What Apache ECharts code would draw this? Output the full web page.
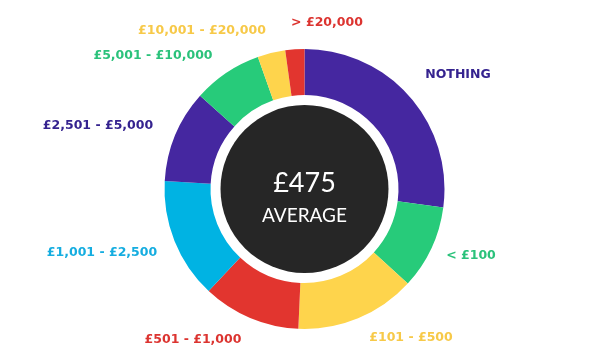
<!DOCTYPE html>
<html>
<head>
<meta charset="utf-8">
<script src="https://cdn.jsdelivr.net/npm/echarts@6/dist/echarts.min.js"></script>
<style>
html,body{margin:0;padding:0;background:#fff;}
#chart{width:605px;height:362px;}
</style>
</head>
<body>
<div id="chart"></div>
<script>
// Data (share of respondents, %), clockwise from 12 o'clock
const categories = ['NOTHING', '< £100', '£101 - £500', '£501 - £1,000', '£1,001 - £2,500', '£2,501 - £5,000', '£5,001 - £10,000', '£10,001 - £20,000', '> £20,000'];
const values = [27.1, 9.7, 13.9, 11.3, 13.9, 10.7, 8.0, 3.2, 2.2];
const centerValue = '£475';
const centerLabel = 'AVERAGE';

// Styles
const sliceColors = ['#4527a0', '#27cb7a', '#fed44c', '#e2352f', '#00b3e3', '#4527a0', '#27cb7a', '#fed44c', '#e2352f'];
const labelColors = ['#35238f', '#2bc27b', '#f7c948', '#dc3430', '#15ade0', '#35238f', '#2bc27b', '#f7c948', '#dc3430'];
const labelPos = [[458, 75], [471, 256], [411, 338], [193, 340], [102, 253], [98, 126], [153, 56], [202, 31], [327, 23]];

const chart = echarts.init(document.getElementById('chart'), null, {renderer: 'canvas'});
const cx = 304.5, cy = 189;
chart.setOption({
  animation: false,
  series: [{
    type: 'pie',
    center: [cx, cy],
    radius: [94, 140],
    startAngle: 90,
    clockwise: true,
    silent: true,
    avoidLabelOverlap: false,
    itemStyle: {borderWidth: 0},
    label: {
      show: true,
      position: 'outside',
      formatter: '{b}',
      fontFamily: 'DejaVu Sans',
      fontWeight: 'bold',
      fontSize: 12.5
    },
    labelLine: {show: false},
    labelLayout: function (p) {
      const pos = labelPos[p.dataIndex];
      return {x: pos[0], y: pos[1], align: 'center', verticalAlign: 'middle'};
    },
    data: categories.map((c, i) => ({
      name: c,
      value: values[i],
      itemStyle: {color: sliceColors[i]},
      label: {color: labelColors[i]}
    }))
  }],
  graphic: [
    {type: 'circle', shape: {cx: cx, cy: cy, r: 84}, style: {fill: '#262626'}, silent: true},
    {type: 'text', x: cx, y: 183, style: {text: centerValue, fill: '#ffffff', font: '27px Lato', align: 'center', verticalAlign: 'middle'}, silent: true},
    {type: 'text', x: cx, y: 216, style: {text: centerLabel, fill: '#ffffff', font: '19px Lato', align: 'center', verticalAlign: 'middle'}, silent: true}
  ]
});
</script>
</body>
</html>
